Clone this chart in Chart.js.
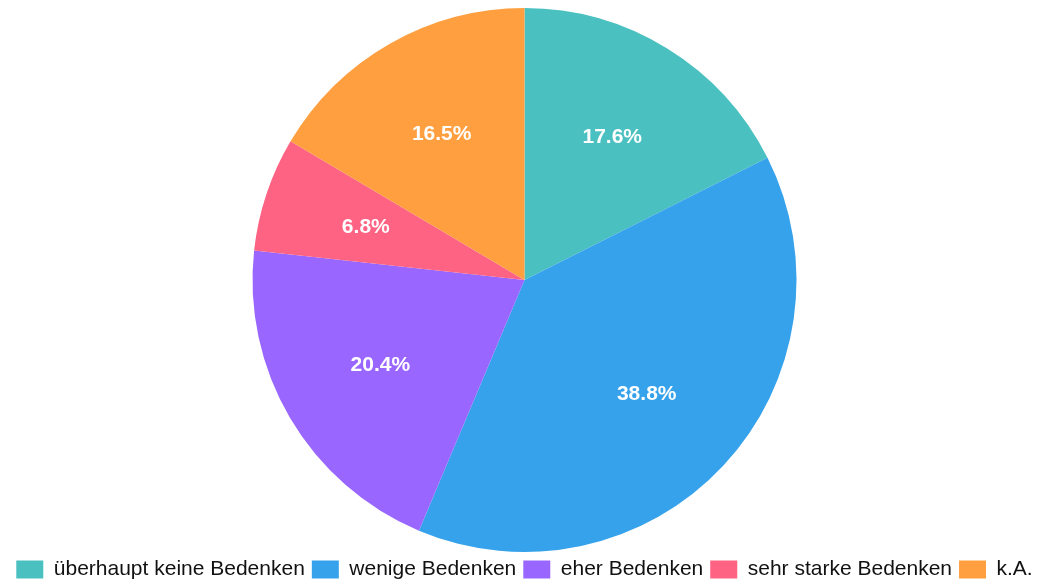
<!DOCTYPE html>
<html>
<head>
<meta charset="utf-8">
<script src="https://cdn.jsdelivr.net/npm/chart.js@4"></script>
<style>
  html, body { margin: 0; padding: 0; background: #fff; }
  #wrap { width: 1049px; height: 588px; }
</style>
</head>
<body>
<div id="wrap"><canvas id="torte"></canvas></div>
<script>
const kategorien = ['überhaupt keine Bedenken', 'wenige Bedenken', 'eher Bedenken', 'sehr starke Bedenken', 'k.A.'];
const anteile = [17.6, 38.8, 20.4, 6.8, 16.5];
const farben = ['rgb(75, 192, 192)', 'rgb(54, 162, 235)', 'rgb(153, 102, 255)', 'rgb(255, 99, 132)', 'rgb(255, 159, 64)'];

// Prozentwerte in die Segmente schreiben
const prozentLabels = {
    id: 'prozentLabels',
    afterDatasetsDraw(chart) {
        const ctx = chart.ctx;
        const meta = chart.getDatasetMeta(0);
        ctx.save();
        ctx.fillStyle = '#fff';
        ctx.font = 'bold 21px "Liberation Sans", Arial, sans-serif';
        ctx.textAlign = 'center';
        ctx.textBaseline = 'middle';
        meta.data.forEach((arc, i) => {
            const p = arc.getProps(['x', 'y', 'startAngle', 'endAngle', 'outerRadius'], true);
            const mitte = (p.startAngle + p.endAngle) / 2;
            const r = p.outerRadius * 0.615;
            ctx.fillText(anteile[i].toFixed(1) + '%', p.x + Math.cos(mitte) * r, p.y + Math.sin(mitte) * r);
        });
        ctx.restore();
    }
};

new Chart(document.getElementById('torte'), {
    type: 'pie',
    data: {
        labels: kategorien,
        datasets: [{
            data: anteile,
            backgroundColor: farben,
            borderWidth: 0
        }]
    },
    options: {
        responsive: true,
        maintainAspectRatio: false,
        animation: false,
        layout: { padding: { top: 8, bottom: -2 } },
        plugins: {
            tooltip: { enabled: false },
            legend: {
                position: 'bottom',
                labels: {
                    boxWidth: 27,
                    boxHeight: 18,
                    padding: 7,
                    color: '#111',
                    font: { size: 21, family: '"Liberation Sans", Arial, sans-serif' }
                }
            }
        }
    },
    plugins: [prozentLabels]
});
</script>
</body>
</html>
